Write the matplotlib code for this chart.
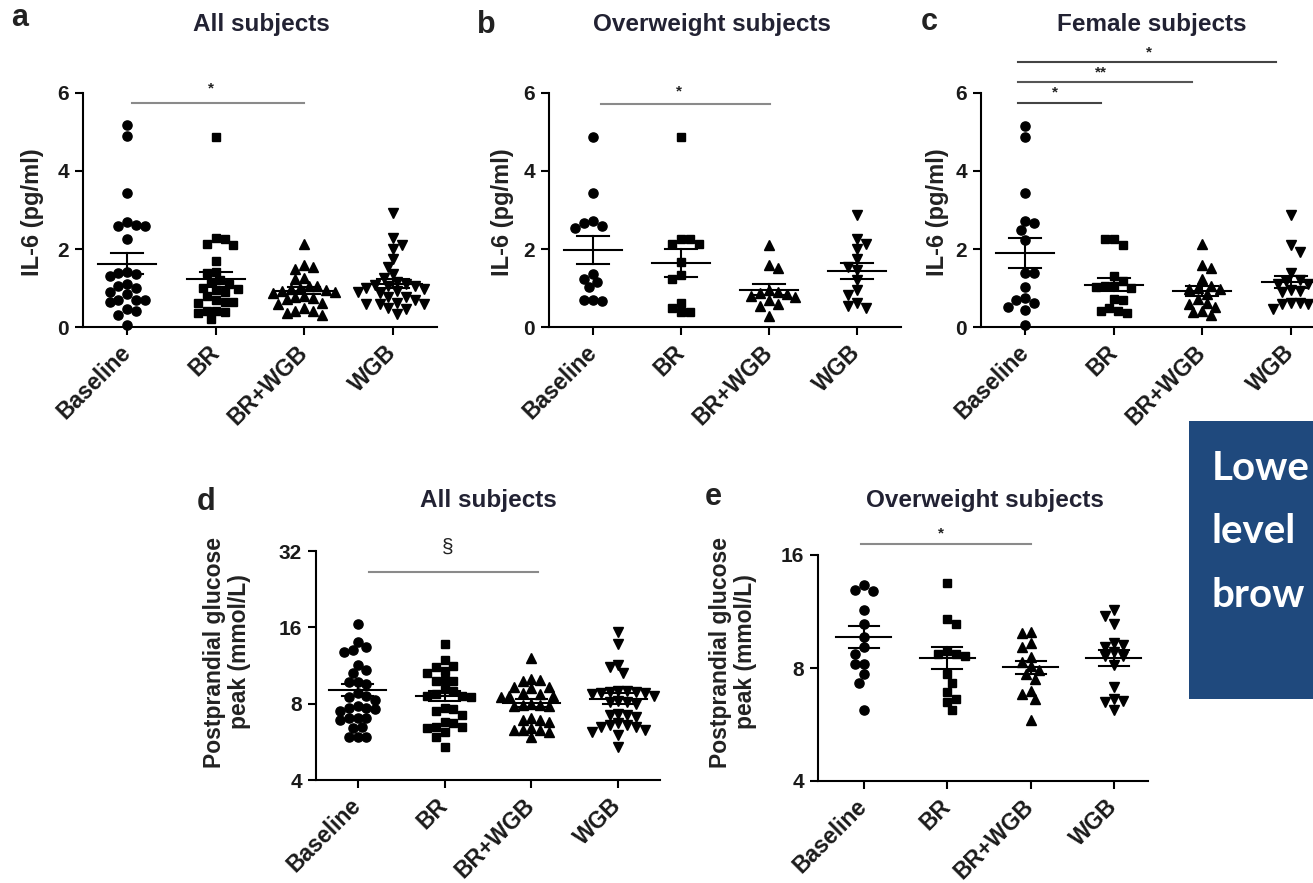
import numpy as np
import matplotlib
matplotlib.use("Agg")
import matplotlib.pyplot as plt
from matplotlib.patches import Rectangle

plt.rcParams['font.family'] = ['Liberation Sans', 'DejaVu Sans']
plt.rcParams['font.weight'] = 'bold'

groups = ["Baseline", "BR", "BR+WGB", "WGB"]
markers = ["o", "s", "^", "v"]
msizes = [6.6, 6.2, 7.0, 7.0]

# IL-6 (pg/ml), all subjects
il6_all_base = [5.18, 4.9, 3.43, 2.7, 2.62, 2.6, 2.58, 2.25, 1.4, 1.38, 1.35, 1.3, 1.1,
                1.05, 1.0, 0.9, 0.85, 0.7, 0.68, 0.68, 0.65, 0.45, 0.42, 0.3, 0.06]
il6_all_br = [4.88, 2.28, 2.25, 2.12, 2.1, 1.68, 1.42, 1.38, 1.2, 1.15, 1.1, 1.0, 0.98,
              0.95, 0.9, 0.8, 0.68, 0.65, 0.65, 0.62, 0.42, 0.4, 0.38, 0.36, 0.2]
il6_all_brwgb = [2.13, 1.58, 1.5, 1.55, 1.25, 1.22, 1.05, 1.05, 1.0, 0.98, 0.95, 0.92, 0.9,
                 0.88, 0.8, 0.78, 0.75, 0.72, 0.62, 0.6, 0.48, 0.4, 0.35, 0.3, 0.42]
il6_all_wgb = [2.92, 2.28, 2.1, 2.0, 1.75, 1.55, 1.35, 1.15, 1.05, 1.25, 1.0, 0.98, 1.1, 1.08,
               1.05, 0.92, 0.9, 0.88, 0.78, 0.76, 0.62, 0.6, 0.6, 0.58, 0.33, 0.45, 0.5, 0.7]

# IL-6 (pg/ml), overweight subjects
il6_ow_base = [4.88, 3.44, 2.72, 2.59, 2.55, 2.66, 1.35, 1.22, 1.15, 1.02, 0.7, 0.67, 0.7]
il6_ow_br = [4.88, 2.25, 2.12, 2.12, 2.25, 1.67, 1.23, 1.33, 0.49, 0.62, 0.39, 0.39]
il6_ow_brwgb = [2.1, 1.51, 1.59, 0.95, 0.85, 0.9, 0.8, 0.78, 0.88, 0.6, 0.68, 0.55, 0.28]
il6_ow_wgb = [2.87, 2.26, 2.14, 2.0, 1.74, 1.55, 1.45, 1.2, 0.95, 0.82, 0.62, 0.5, 0.55]

# IL-6 (pg/ml), female subjects
il6_f_base = [5.15, 4.86, 3.43, 2.72, 2.66, 2.5, 2.23, 1.38, 1.38, 1.03, 0.69, 0.74,
              0.62, 0.52, 0.44, 0.05]
il6_f_br = [2.25, 2.1, 2.25, 1.3, 1.18, 1.05, 1.0, 1.02, 1.05, 0.7, 0.72, 0.42, 0.35, 0.42, 0.5]
il6_f_brwgb = [2.12, 1.6, 1.52, 1.22, 1.05, 1.0, 0.98, 0.97, 0.85, 0.6, 0.72, 0.62, 0.52,
               0.38, 0.3, 0.4]
il6_f_wgb = [2.87, 2.1, 1.92, 1.38, 1.18, 1.1, 1.2, 1.1, 0.92, 0.95, 0.9, 0.62, 0.6, 0.58,
             0.62, 0.47]

# postprandial glucose peak (mmol/L), all subjects
glu_all_base = [16.5, 13.4, 12.8, 13.0, 14.0, 11.4, 10.6, 10.9, 9.7, 9.7, 9.6, 8.8, 8.6, 8.5,
                8.3, 7.8, 7.7, 7.7, 7.6, 7.5, 7.0, 7.0, 6.9, 7.0, 6.5, 6.4, 5.9, 5.9, 5.9]
glu_all_br = [13.7, 11.9, 11.2, 11.3, 10.6, 10.8, 9.8, 9.8, 9.9, 9.1, 9.0, 8.6, 8.7, 8.6, 8.5,
              7.6, 7.5, 7.7, 6.8, 6.7, 6.5, 6.5, 6.4, 5.9, 5.4, 6.2, 7.2]
glu_all_brwgb = [12.1, 10.0, 9.9, 9.8, 9.3, 9.2, 9.3, 8.8, 8.6, 8.7, 8.6, 8.5, 8.0, 7.9, 7.8,
                 7.9, 7.8, 6.9, 6.9, 7.0, 6.8, 6.3, 6.3, 6.2, 6.3, 6.4, 5.9]
glu_all_wgb = [15.4, 13.7, 11.2, 10.6, 11.4, 9.0, 8.9, 8.8, 8.9, 9.0, 8.8, 8.7, 8.6, 8.1, 8.0,
               8.2, 8.1, 7.3, 7.1, 7.2, 7.2, 6.6, 6.5, 6.7, 6.6, 6.5, 6.2, 5.4, 6.0, 6.3]

# postprandial glucose peak (mmol/L), overweight subjects
glu_ow_base = [12.9, 12.8, 13.3, 11.4, 10.5, 9.7, 9.1, 8.7, 8.2, 8.2, 7.7, 7.3, 6.2]
glu_ow_br = [13.5, 10.5, 10.8, 8.9, 8.7, 8.6, 8.7, 7.7, 7.3, 6.9, 6.6, 6.5, 6.2]
glu_ow_brwgb = [10.0, 9.9, 9.1, 9.3, 8.3, 8.55, 7.9, 7.7, 7.5, 6.8, 6.95, 6.6, 5.8, 8.1]
glu_ow_wgb = [11.45, 11.0, 10.5, 9.3, 9.2, 9.1, 8.8, 8.6, 8.6, 8.15, 7.1, 6.6, 6.5, 6.55, 6.2]

W, H = 1313, 883
fig = plt.figure(figsize=(W / 100, H / 100), dpi=100)


def px_axes(left, right, bottom, top):
    return fig.add_axes([left / W, 1 - bottom / H, (right - left) / W, (bottom - top) / H])


def swarm_x(ax, x0, vals, diam):
    # simple beeswarm in pixel space, markers may overlap a little
    vals = np.asarray(vals, float)
    yp = ax.transData.transform(np.column_stack([np.full(len(vals), x0), vals]))[:, 1]
    ppu = ax.transData.transform((1, vals[0]))[0] - ax.transData.transform((0, vals[0]))[0]
    placed = []
    offs = np.zeros(len(vals))
    flip = 1
    for i in np.argsort(-vals):
        pos = None
        for step in range(0, 80):
            cands = [0.0] if step == 0 else [flip * step * diam / 2, -flip * step * diam / 2]
            for c in cands:
                if all((c - a) ** 2 + (yp[i] - b) ** 2 >= diam ** 2 for a, b in placed):
                    pos = c
                    break
            if pos is not None:
                break
        flip = -flip
        placed.append((pos, yp[i]))
        offs[i] = pos
    return x0 + offs / ppu


def dot_panel(ax, data, ylim, yticks, logy=False, xlim=(-0.5, 3.5)):
    if logy:
        ax.set_yscale('log', base=2)
    ax.set_xlim(*xlim)
    ax.set_ylim(*ylim)
    for k, vals in enumerate(data):
        xs = swarm_x(ax, k, vals, 8.8)
        ax.plot(xs, vals, linestyle='none', marker=markers[k], ms=msizes[k],
                color='black', mec='black', clip_on=False, zorder=3)
        v = np.asarray(vals)
        m = v.mean()
        sem = v.std(ddof=1) / np.sqrt(len(v))
        ax.plot([k - 0.33, k + 0.33], [m, m], color='black', lw=1.5, zorder=4)
        ax.plot([k, k], [m - sem, m + sem], color='black', lw=1.5, zorder=4)
        for e in (m - sem, m + sem):
            ax.plot([k - 0.18, k + 0.18], [e, e], color='black', lw=1.5, zorder=4)
    ax.set_yticks(yticks)
    ax.set_yticklabels([str(t) for t in yticks])
    ax.minorticks_off()
    ax.set_xticks(range(4))
    ax.set_xticklabels(groups, rotation=45, ha='right', va='center',
                       rotation_mode='anchor', fontsize=16.5, color='#1a1a1a')
    for s in ('top', 'right'):
        ax.spines[s].set_visible(False)
    for s in ('left', 'bottom'):
        ax.spines[s].set_linewidth(1.5)
    ax.tick_params(axis='both', length=6, width=1.5, direction='out')
    ax.tick_params(axis='y', labelsize=15, labelcolor='#1a1a1a', pad=4)
    ax.tick_params(axis='x', pad=10)


def sig(ax, x1, x2, y, label, ys, xs, color='#8a8a8a', size=11, weight='bold'):
    ax.plot([x1, x2], [y, y], color=color, lw=1.5, clip_on=False)
    ax.text(xs, ys, label, ha='center', va='center', fontsize=size,
            fontweight=weight, color='#222222', clip_on=False)


ax_a = px_axes(83, 437, 327, 93)
dot_panel(ax_a, [il6_all_base, il6_all_br, il6_all_brwgb, il6_all_wgb], (0, 6), [0, 2, 4, 6])
sig(ax_a, 0.05, 2.0, 5.74, '*', 6.12, 0.95)

ax_b = px_axes(549, 901, 327, 93)
dot_panel(ax_b, [il6_ow_base, il6_ow_br, il6_ow_brwgb, il6_ow_wgb], (0, 6), [0, 2, 4, 6])
sig(ax_b, 0.09, 2.01, 5.72, '*', 6.05, 0.98)

ax_c = px_axes(981, 1335, 327, 93)
dot_panel(ax_c, [il6_f_base, il6_f_br, il6_f_brwgb, il6_f_wgb], (0, 6), [0, 2, 4, 6])
sig(ax_c, -0.08, 0.86, 5.74, '*', 6.02, 0.34, color='#444444')
sig(ax_c, -0.08, 1.88, 6.28, '**', 6.52, 0.85, color='#555555')
sig(ax_c, -0.08, 2.83, 6.80, '*', 7.05, 1.40, color='#444444')

ax_d = px_axes(316, 660, 780, 551)
dot_panel(ax_d, [glu_all_base, glu_all_br, glu_all_brwgb, glu_all_wgb], (4, 32),
          [4, 8, 16, 32], logy=True, xlim=(-0.48, 3.48))
sig(ax_d, 0.13, 2.08, 26.5, '\u00a7', 33.0, 1.03, size=15, weight='normal')

ax_e = px_axes(818, 1148, 781, 555)
dot_panel(ax_e, [glu_ow_base, glu_ow_br, glu_ow_brwgb, glu_ow_wgb], (4, 16),
          [4, 8, 16], logy=True, xlim=(-0.55, 3.41))
sig(ax_e, -0.04, 2.0, 17.1, '*', 18.3, 0.92)


def ftext(x, y, s, **kw):
    fig.text(x / W, 1 - y / H, s, **kw)


for letter, x, y in [('a', 20, 18), ('b', 486, 25), ('c', 929, 22), ('d', 206, 502), ('e', 713, 497)]:
    ftext(x, y, letter, fontsize=22, ha='center', va='center', color='#222222')

for title, x, y in [('All subjects', 261, 25), ('Overweight subjects', 712, 25),
                    ('Female subjects', 1152, 25), ('All subjects', 488, 500),
                    ('Overweight subjects', 985, 500)]:
    ftext(x, y, title, fontsize=17.5, ha='center', va='center', color='#222233')

for x in (33, 503, 937):
    ftext(x, 212, 'IL-6 (pg/ml)', fontsize=17, rotation=90, ha='center', va='center',
          color='#222222')
for x in (227, 733):
    ftext(x, 652, 'Postprandial glucose\npeak (mmol/L)', fontsize=16.5, rotation=90,
          ha='center', va='center', multialignment='center', color='#222222',
          linespacing=1.15)

fig.patches.append(Rectangle((1189 / W, 1 - 699 / H), 0.2, (699 - 421) / H,
                             transform=fig.transFigure, facecolor='#1f497d',
                             edgecolor='none', zorder=0))
for word, y in [('Lowe', 480), ('level', 543), ('brow', 607)]:
    ftext(1212, y, word, fontsize=29, family='Lato', fontweight='bold', color='white',
          ha='left', va='baseline')

fig.savefig('out.png', dpi=100)
